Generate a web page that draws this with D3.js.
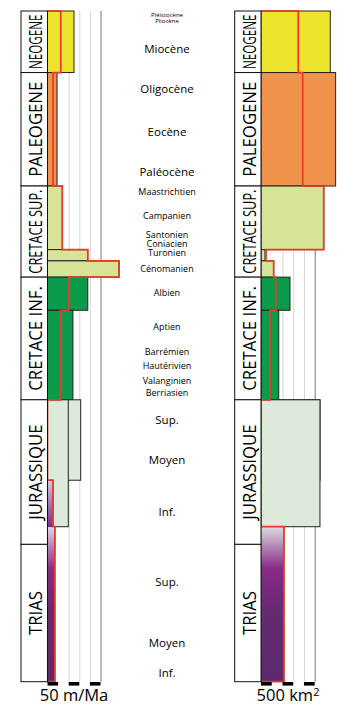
<!DOCTYPE html>
<html>

<head>
	<meta charset="utf-8">
	<title>Taux et surfaces</title>
	<style>
		body { margin: 0; background: #fff; }
		svg { display: block; font-family: "Open Sans", sans-serif; }
	</style>
</head>

<body>
	<svg class="svg" width="338" height="704"></svg>

	<script src="https://d3js.org/d3.v7.min.js"></script>
	<script>
		//periods and their limits (Ma)
		var periods = ["NEOGENE", "PALEOGENE", "CRETACE SUP.", "CRETACE INF.", "JURASSIQUE", "TRIAS"];
		var periodLimits = [0, 23.03, 65.5, 99.6, 145.5, 199.6, 251];

		//labels of the middle column, placed at an age (Ma)
		var epochLabels = ["Miocène", "Oligocène", "Eocène", "Paléocène", "Sup.", "Moyen", "Inf.", "Sup.", "Moyen", "Inf."];
		var epochAges = [14.2, 29.0, 45.1, 60.1, 153.1, 168.0, 187.3, 213.5, 236.5, 247.9];
		var stageLabels = ["Maastrichtien", "Campanien", "Santonien", "Coniacien", "Turonien", "Cénomanien",
			"Albien", "Aptien", "Barrémien", "Hautérivien", "Valanginien", "Berriasien"];
		var stageAges = [67.7, 76.7, 83.6, 87.0, 90.5, 96.6, 105.5, 118.1, 127.4, 132.9, 138.5, 143.0];
		var smallLabels = ["Pléistocène", "Pliocène"];
		var smallAges = [1.6, 3.7];

		//bars: top / base (Ma), period of the colour
		var barTops = [0, 23.03, 65.5, 89.3, 93.5, 99.6, 112, 145.5, 145.5];
		var barBases = [23.03, 65.5, 89.3, 93.5, 99.6, 112, 145.5, 175.6, 193];
		var barPeriods = [0, 1, 2, 2, 2, 3, 3, 4, 4];
		var rateValues = [25, 9, 14, 38, 67.5, 38, 24, 31.3, 19.6]; // m/Ma
		var areaValues = [645, 695, 584, 37, 118, 270, 165, 549, 549]; // km2

		//purple (trias) bars
		var triasTops = [175.6, 193];
		var triasBases = [193, 251];
		var triasRates = [5.2, 7];
		var triasAreas = [0, 214];

		//red outline, one value per step
		var stepLimits = [0, 23.03, 65.5, 89.3, 93.5, 99.6, 112, 145.5, 175.6, 193, 251];
		var rateSteps = [12.5, 5.2, 14, 38, 67.5, 20, 12.4, 0, 5.2, 7];
		var areaSteps = [347, 388, 584, 47, 118, 137, 84, 0, 0, 214];

		//scale ticks
		var rateTicks = [0, 10, 20, 30, 40, 50];
		var areaTicks = [0, 100, 200, 300, 400, 500];

		var colors = ["#ece52b", "#f0934a", "#d7e396", "#0b9a4a", "#dde9da"];
		var red = "#e8392b";

		var svg = d3.select("svg");

		//time axis, Ma downwards
		var y = d3.scaleLinear()
			.domain([0, 251])
			.range([11, 681.7]);

		var defs = svg.append("defs");

		function gradient(id, stops) {
			defs.append("linearGradient")
				.attr("id", id)
				.attr("x1", 0).attr("y1", 0)
				.attr("x2", 0).attr("y2", 1)
				.selectAll("stop")
				.data(stops)
				.enter().append("stop")
				.attr("offset", function(d) { return d[0]; })
				.attr("stop-color", function(d) { return d[1]; });
		}
		gradient("triasShort", [[0, "#d6cbd9"], [0.5, "#a877ab"], [1, "#7d2c85"]]);
		gradient("triasLong", [[0, "#dedcdf"], [0.12, "#b58bb6"], [0.27, "#892a87"], [0.55, "#652a71"], [1, "#5f2a6d"]]);

		function panel(boxLeft, boxRight, x, ticks, values, trias, steps) {
			var g = svg.append("g");

			//grid lines
			g.selectAll(".grid")
				.data(ticks.slice(2))
				.enter().append("line")
				.attr("x1", function(d) { return x(d) + 0.5; })
				.attr("x2", function(d) { return x(d) + 0.5; })
				.attr("y1", y(0))
				.attr("y2", y(251))
				.attr("stroke", function(d, i) { return i == 3 ? "#777" : "#d6d6d6"; })
				.attr("stroke-width", 1);

			//period bars
			g.selectAll(".bar")
				.data(values)
				.enter().append("rect")
				.attr("x", x(0))
				.attr("y", function(d, i) { return y(barTops[i]); })
				.attr("width", function(d) { return x(d) - x(0); })
				.attr("height", function(d, i) { return y(barBases[i]) - y(barTops[i]); })
				.attr("fill", function(d, i) { return colors[barPeriods[i]]; })
				.attr("stroke", "#222")
				.attr("stroke-width", 1);

			//trias bars (the short one sits in the Jurassic)
			var tb = trias.map(function(v, i) {
				return { v: v, top: triasTops[i], base: triasBases[i] };
			}).filter(function(d) { return d.v > 0; });

			g.selectAll(".trias")
				.data(tb)
				.enter().append("rect")
				.attr("x", x(0))
				.attr("y", function(d) { return y(d.top); })
				.attr("width", function(d) { return x(d.v) - x(0); })
				.attr("height", function(d) { return y(d.base) - y(d.top); })
				.attr("fill", function(d) { return d.base < periodLimits[6] ? "url(#triasShort)" : "url(#triasLong)"; })
				.attr("stroke", "#333")
				.attr("stroke-width", 0.6);

			//red step outline
			var pts = [[x(0), y(stepLimits[0])]];
			steps.forEach(function(v, i) {
				pts.push([x(v), y(stepLimits[i])]);
				pts.push([x(v), y(stepLimits[i + 1])]);
			});
			pts.push([x(0), y(stepLimits[stepLimits.length - 1])]);

			g.append("path")
				.attr("d", d3.line()(pts))
				.attr("fill", "none")
				.attr("stroke", red)
				.attr("stroke-width", 1.7)
				.attr("stroke-linejoin", "miter");

			//period boxes
			var box = g.selectAll(".period")
				.data(periods)
				.enter().append("g");

			box.append("rect")
				.attr("x", boxLeft)
				.attr("y", function(d, i) { return y(periodLimits[i]); })
				.attr("width", boxRight - boxLeft)
				.attr("height", function(d, i) { return y(periodLimits[i + 1]) - y(periodLimits[i]); })
				.attr("fill", "#fff")
				.attr("stroke", "#111")
				.attr("stroke-width", 1);

			box.append("text")
				.attr("transform", function(d, i) {
					var cy = (y(periodLimits[i]) + y(periodLimits[i + 1])) / 2;
					return "translate(" + ((boxLeft + boxRight) / 2 + 1) + "," + cy + ") rotate(-90)";
				})
				.attr("text-anchor", "middle")
				.attr("dominant-baseline", "central")
				.style("font-size", "18px")
				.text(function(d) { return d; })
				.each(function(d, i) {
					var h = y(periodLimits[i + 1]) - y(periodLimits[i]);
					var len = Math.min(this.getComputedTextLength() * 0.93, h - 7);
					d3.select(this)
						.attr("textLength", len)
						.attr("lengthAdjust", "spacingAndGlyphs");
				});

			//scale bar
			g.selectAll(".scale")
				.data(ticks.filter(function(d, i) { return i % 2 == 0 && i < ticks.length - 1; }))
				.enter().append("rect")
				.attr("x", function(d) { return x(d); })
				.attr("y", y(251) + 0.3)
				.attr("width", x(ticks[1]) - x(ticks[0]))
				.attr("height", 3.6)
				.attr("fill", "#000");
		}

		var xRate = d3.scaleLinear().domain([0, 50]).range([47.5, 100.5]);
		var xArea = d3.scaleLinear().domain([0, 500]).range([261, 314.7]);

		panel(21, 47.5, xRate, rateTicks, rateValues, triasRates, rateSteps);
		panel(234.7, 261, xArea, areaTicks, areaValues, triasAreas, areaSteps);

		//middle column labels
		function labels(names, ages, size) {
			svg.append("g").selectAll("text")
				.data(names)
				.enter().append("text")
				.attr("x", 167)
				.attr("y", function(d, i) { return y(ages[i]); })
				.attr("dy", "0.35em")
				.attr("text-anchor", "middle")
				.style("font-size", size)
				.text(function(d) { return d; });
		}
		labels(epochLabels, epochAges, "11.5px");
		labels(stageLabels, stageAges, "9px");
		labels(smallLabels, smallAges, "6px");

		//units
		svg.append("text")
			.attr("x", 74)
			.attr("y", 700.5)
			.attr("text-anchor", "middle")
			.style("font-size", "16.5px")
			.text("50 m/Ma");

		var km = svg.append("text")
			.attr("x", 288)
			.attr("y", 700.5)
			.attr("text-anchor", "middle")
			.style("font-size", "16.5px");
		km.append("tspan").text("500 km");
		km.append("tspan")
			.attr("dy", "-0.45em")
			.style("font-size", "11px")
			.text("2");
	</script>
</body>

</html>
